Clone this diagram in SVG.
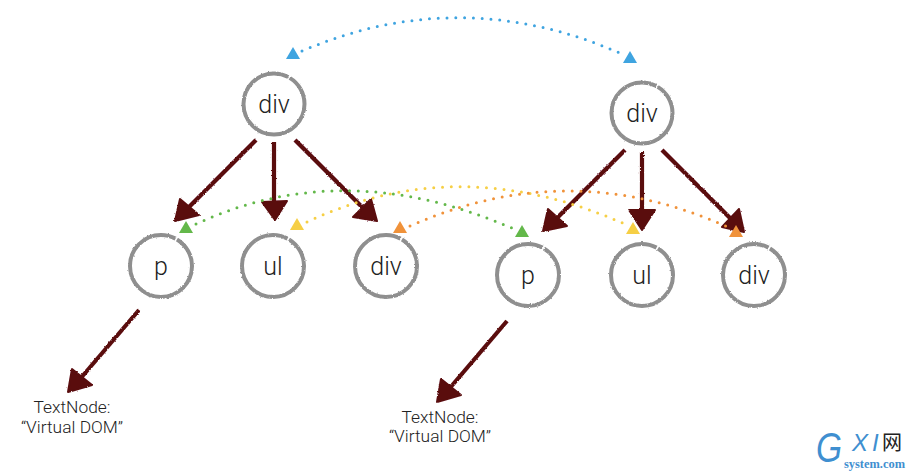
<svg xmlns="http://www.w3.org/2000/svg" width="912" height="471" viewBox="0 0 912 471">
<style>
.lbl{font-family:"Roboto","Liberation Sans",sans-serif;font-weight:300;font-size:25px;fill:#222;text-anchor:middle}
.cap{font-family:"Roboto","Liberation Sans",sans-serif;font-weight:300;font-size:17.4px;fill:#222;text-anchor:middle}
.ring{fill:none;stroke:#8f8f8f;stroke-width:4;stroke-dasharray:298 3 59 0;filter:url(#rough)}
.dot{fill:none;stroke-width:3;stroke-linecap:round;stroke-dasharray:0 8.8}
.ar line{stroke:#5a0a10;stroke-width:4.2}
.ar polygon{fill:#5a0a10;stroke:#5a0a10;stroke-width:2;stroke-linejoin:round}
.blue{font-family:"Liberation Sans",sans-serif;font-style:italic;fill:#3f8fd0}
</style>
<defs>
<filter id="rough" x="-10%" y="-10%" width="120%" height="120%">
<feTurbulence type="fractalNoise" baseFrequency="0.7" numOctaves="2" seed="3"/>
<feDisplacementMap in="SourceGraphic" scale="2.2" xChannelSelector="R" yChannelSelector="G"/>
</filter>
</defs>
<rect width="912" height="471" fill="#fff"/>
<g id="connectors">
<g class="ar" filter="url(#rough)">
<line x1="256" y1="140" x2="187" y2="209"/><polygon points="180,199 175,221 199,215"/>
<line x1="274" y1="142" x2="274" y2="205"/><polygon points="262,202 287,201 275,220"/>
<line x1="295" y1="140" x2="365" y2="210"/><polygon points="371,199 353,217 377,221"/>
<line x1="625" y1="150" x2="555" y2="220"/><polygon points="548,209 543,231 567,226"/>
<line x1="642" y1="152" x2="642" y2="215"/><polygon points="629,210 655,210 642,230"/>
<line x1="662" y1="150" x2="733" y2="221"/><polygon points="739,209 722,227 744,232"/>
<line x1="139" y1="310" x2="80" y2="379"/><polygon points="72,369 68,392 92,385"/>
<line x1="507" y1="321" x2="449" y2="389"/><polygon points="441,379 437,402 461,395"/>
</g>
<path class="dot" stroke="#3fa4e0" d="M302 51Q461 -17 622 54"/>
<polygon fill="#3fa4e0" points="293,47 300,59 286,59"/>
<polygon fill="#3fa4e0" points="630,51 637,63 623,63"/>
<path class="dot" stroke="#63b84a" d="M196 224Q345 155 514 229"/>
<polygon fill="#63b84a" points="186,221 193,233 179,233"/>
<polygon fill="#63b84a" points="522,225 529,237 515,237"/>
<path class="dot" stroke="#f6cf45" d="M307 222Q460 150 627 225"/>
<polygon fill="#f6cf45" points="297,218 304,230 290,230"/>
<polygon fill="#f6cf45" points="633,222 640,234 626,234"/>
<path class="dot" stroke="#f0923a" d="M410 226Q570 155 730 228"/>
<polygon fill="#f0923a" points="400,221 407,233 393,233"/>
<polygon fill="#f0923a" points="736,225 743,237 729,237"/>
</g>
<g id="n1"><circle class="ring" pathLength="360" cx="274" cy="104" r="30.5"/><text class="lbl" x="274" y="113">div</text></g>
<g id="n2"><circle class="ring" pathLength="360" cx="642" cy="113" r="30.5"/><text class="lbl" x="642" y="122">div</text></g>
<g id="n3"><circle class="ring" pathLength="360" cx="161" cy="266" r="31"/><text class="lbl" x="161" y="275">p</text></g>
<g id="n4"><circle class="ring" pathLength="360" cx="273" cy="266" r="31"/><text class="lbl" x="273" y="275">ul</text></g>
<g id="n5"><circle class="ring" pathLength="360" cx="386" cy="266" r="31"/><text class="lbl" x="386" y="275">div</text></g>
<g id="n6"><circle class="ring" pathLength="360" cx="528" cy="275" r="31"/><text class="lbl" x="528" y="284">p</text></g>
<g id="n7"><circle class="ring" pathLength="360" cx="642" cy="275" r="31"/><text class="lbl" x="642" y="284">ul</text></g>
<g id="n8"><circle class="ring" pathLength="360" cx="754" cy="275" r="31"/><text class="lbl" x="754" y="284">div</text></g>
<g id="t1"><text class="cap" x="72" y="413">TextNode:</text><text class="cap" x="72" y="433">“Virtual DOM”</text></g>
<g id="t2"><text class="cap" x="440" y="423">TextNode:</text><text class="cap" x="440" y="442">“Virtual DOM”</text></g>
<g id="logo">
<text class="blue" transform="translate(816 461.5) scale(.78 1)" font-size="43">G</text>
<text class="blue" x="852" y="451" font-size="24">X</text>
<text class="blue" x="872" y="451" font-size="24">I</text>
<text x="882" y="450" font-family="Noto Sans CJK SC,sans-serif" font-size="20" fill="#222">网</text>
<text x="844" y="468" font-family="Liberation Serif,serif" font-weight="bold" font-size="12" textLength="61" lengthAdjust="spacingAndGlyphs" fill="#3f8fd0">system.com</text>
</g>
</svg>
